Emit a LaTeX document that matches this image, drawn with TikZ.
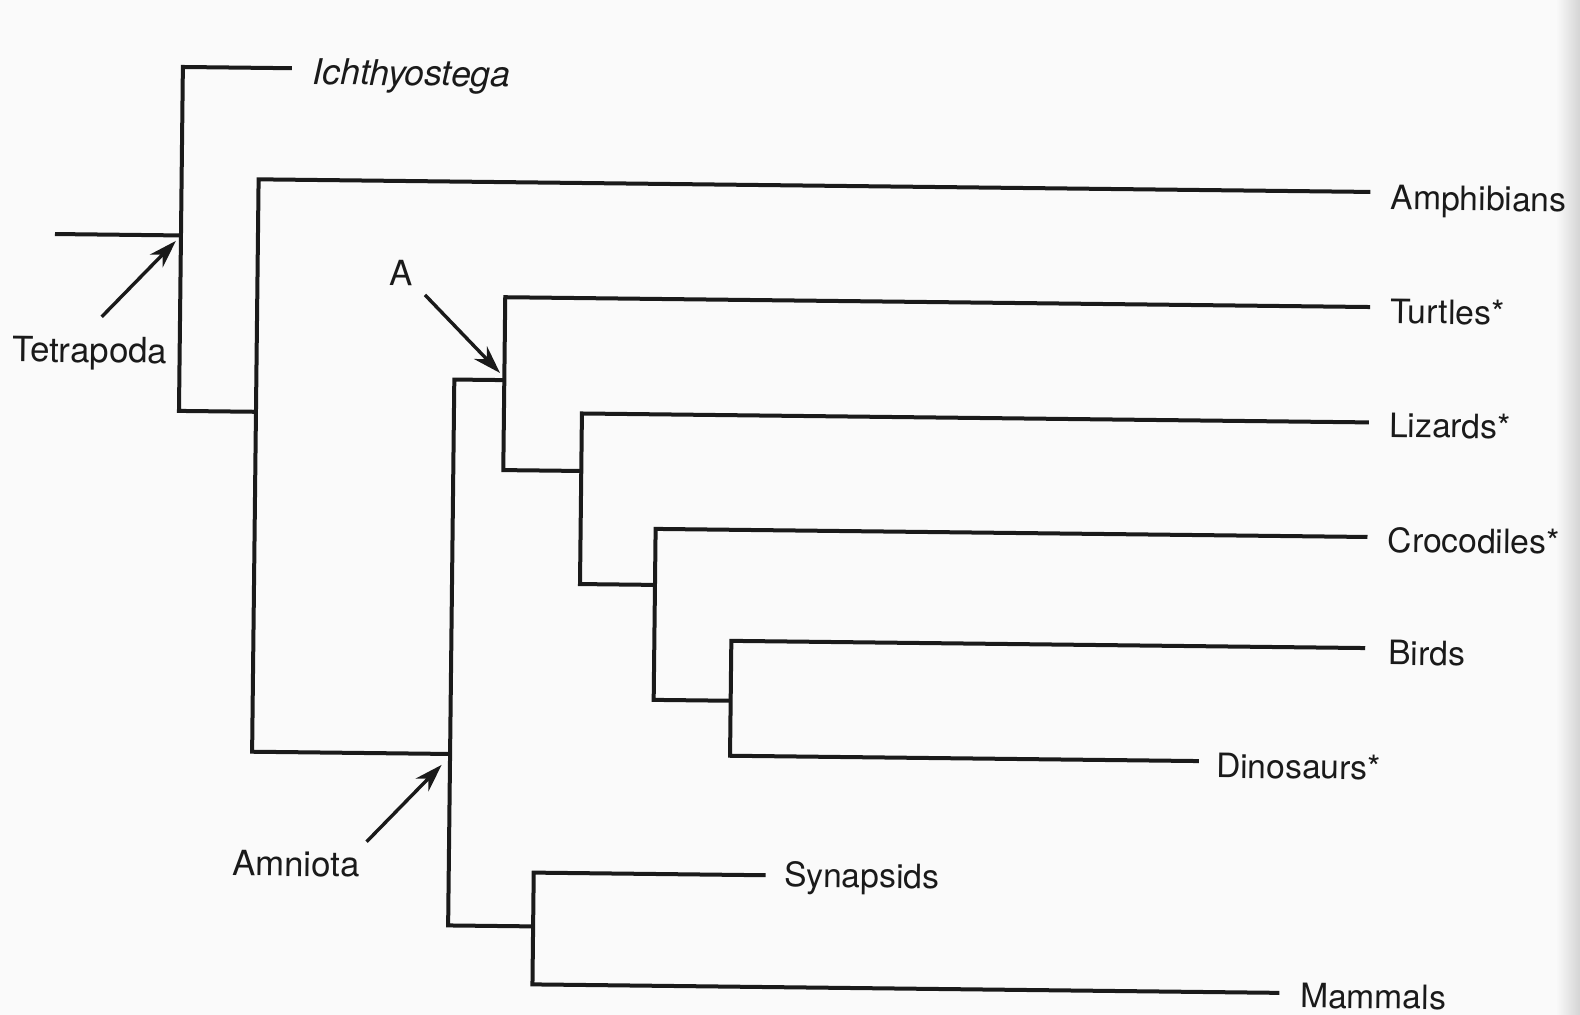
\documentclass[tikz,border=0pt]{standalone}
\usepackage{fontspec}
\setmainfont{TeX Gyre Heros}
\usetikzlibrary{arrows.meta}
\definecolor{ink}{HTML}{1A1A1A}
\definecolor{paper}{HTML}{FAFAFA}
\definecolor{edge}{HTML}{D4D4D4}
\begin{document}
\begin{tikzpicture}[x=0.5pt,y=-0.5pt,
  branch/.style={draw=ink, line width=2pt, line join=miter},
  pointer/.style={draw=ink, line width=1.7pt, -{Stealth[length=14pt,width=9pt,inset=4.5pt]}},
  taxon/.style={anchor=base west, inner sep=0pt, text=ink, font=\fontsize{16.8}{20}\selectfont},
  clade/.style={taxon, font=\fontsize{17.4}{20}\selectfont},
]
\useasboundingbox (0,0) rectangle (1580,1015);
\fill[paper] (0,0) rectangle (1580,1015);
% darker band along the right margin of the page
\shade[left color=paper, right color=edge] (1556,0) rectangle (1580,1015);

\begin{scope}[rotate around={-0.65:(800,500)}, transform shape]
  % internal nodes of the cladogram (top and bottom of each vertical bar)
  \coordinate (root)  at (52,242.5);
  \coordinate (v1j)   at (178,242.5);
  \coordinate (v1t)   at (178,74);
  \coordinate (v1b)   at (178,418);
  \coordinate (v2j)   at (255,418);
  \coordinate (v2t)   at (255,185.5);
  \coordinate (v2b)   at (255,758);
  \coordinate (v3j)   at (453,758);
  \coordinate (v3t)   at (453,383.5);
  \coordinate (v3b)   at (453,929.5);
  \coordinate (v4j)   at (503,383.5);
  \coordinate (v4t)   at (503,300.6);
  \coordinate (v4b)   at (503,473.5);
  \coordinate (v5j)   at (581,473.5);
  \coordinate (v5t)   at (581,416);
  \coordinate (v5b)   at (581,586.6);
  \coordinate (v6j)   at (656,586.6);
  \coordinate (v6t)   at (656,530.6);
  \coordinate (v6b)   at (656,701.6);
  \coordinate (v7j)   at (733,701.6);
  \coordinate (v7t)   at (733,641.7);
  \coordinate (v7b)   at (733,756.6);
  \coordinate (v8j)   at (538,929.5);
  \coordinate (v8t)   at (538,875.7);
  \coordinate (v8b)   at (538,987.5);
  % free ends of the terminal branches
  \coordinate (ichE)  at (287,74);
  \coordinate (amphE) at (1367,185.5);
  \coordinate (turtE) at (1368,300.6);
  \coordinate (lizE)  at (1368,416);
  \coordinate (crocE) at (1368,530.6);
  \coordinate (birdE) at (1367,641.7);
  \coordinate (dinoE) at (1202,756.6);
  \coordinate (synE)  at (770,875.7);
  \coordinate (mamE)  at (1285,987.5);

  % branches
  \draw[branch] (root) -- (v1j);
  \draw[branch] (ichE) -- (v1t) -- (v1b) -- (v2j);
  \draw[branch] (amphE) -- (v2t) -- (v2b) -- (v3j);
  \draw[branch] (v4j) -- (v3t) -- (v3b) -- (v8j);
  \draw[branch] (turtE) -- (v4t) -- (v4b) -- (v5j);
  \draw[branch] (lizE) -- (v5t) -- (v5b) -- (v6j);
  \draw[branch] (crocE) -- (v6t) -- (v6b) -- (v7j);
  \draw[branch] (birdE) -- (v7t) -- (v7b) -- (dinoE);
  \draw[branch] (synE) -- (v8t) -- (v8b) -- (mamE);

  % taxon names
  \node[clade, font=\fontsize{17.8}{20}\selectfont\itshape] (ich) at (307.6,90) {Ichthyostega};
  \node[taxon] (amph) at (1387,203)   {Amphibians};
  \node[taxon] (turt) at (1388,316.7) {Turtles*};
  \node[taxon] (liz)  at (1388,430.6) {Lizards*};
  \node[taxon] (croc) at (1388,545.5) {Crocodiles*};
  \node[taxon] (bird) at (1390,658.3) {Birds};
  \node[taxon] (dino) at (1219,773)   {Dinosaurs*};
  \node[taxon] (syn)  at (788,887)    {Synapsids};
  \node[taxon] (mam)  at (1305.6,1002) {Mammals};

  % clade labels with their pointers
  \node[clade] (tetra) at (10.4,370.6) {Tetrapoda};
  \node[clade] (amnio) at (235.9,882)  {Amniota};
  \node[clade] (cladeA) at (387,290.5) {A};
  \coordinate (tetraTail) at (99.6,324.8);
  \coordinate (tetraTip)  at (173,248);
  \coordinate (aTail)     at (422.7,299.2);
  \coordinate (aTip)      at (498.6,376.4);
  \coordinate (amnTail)   at (370.5,846.7);
  \coordinate (amnTip)    at (444.7,769);
  \draw[pointer] (tetraTail) -- (tetraTip);
  \draw[pointer] (aTail) -- (aTip);
  \draw[pointer] (amnTail) -- (amnTip);
\end{scope}
\end{tikzpicture}
\end{document}
